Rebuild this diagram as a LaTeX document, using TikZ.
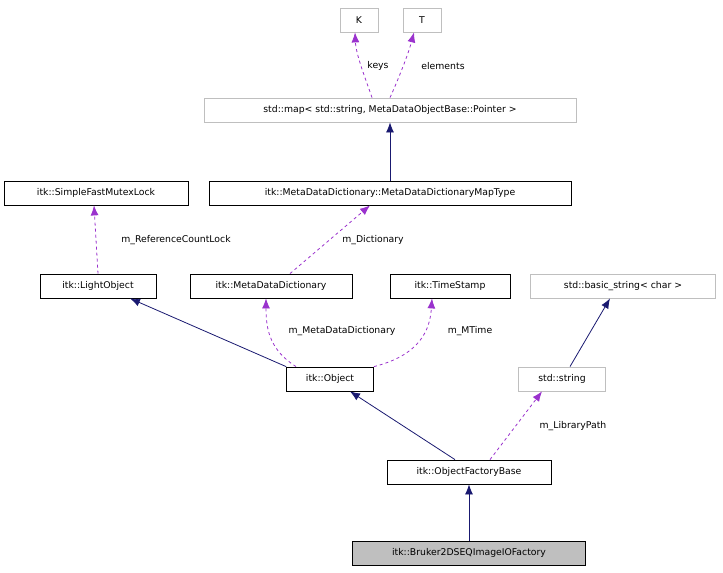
\documentclass[tikz,border=0pt]{standalone}
\usepackage{fontspec}
\setmainfont{DejaVu Sans}
\usetikzlibrary{arrows.meta}
\definecolor{navy}{HTML}{191970}
\definecolor{purp}{HTML}{9A32CD}
\definecolor{gr}{HTML}{BFBFBF}
\begin{document}
\begin{tikzpicture}[x=1pt,y=-1pt,
 box/.style={draw=black,rectangle,minimum height=24pt,inner xsep=4pt,font=\fontsize{9.3}{11}\selectfont,fill=white,line width=0.8pt},
 gbox/.style={box,draw=gr},
 inh/.style={draw=navy,line width=0.8pt,-{Latex[length=10pt,width=8pt]}},
 use/.style={draw=purp,dashed,line width=0.8pt,-{Latex[length=10pt,width=8pt]}},
 lab/.style={font=\fontsize{9.3}{11}\selectfont,fill=white,inner sep=1pt}]
\useasboundingbox (0,0) rectangle (723,573);
\node[gbox,minimum width=38pt] (K) at (359,20) {K};
\node[gbox,minimum width=38pt] (T) at (422,20) {T};
\node[gbox,minimum width=372pt] (map) at (390,110) {std::map< std::string, MetaDataObjectBase::Pointer >};
\node[box,minimum width=362pt] (mt) at (390,193) {itk::MetaDataDictionary::MetaDataDictionaryMapType};
\node[box,minimum width=184pt] (sf) at (96,193) {itk::SimpleFastMutexLock};
\node[box,minimum width=116pt] (lo) at (98,286) {itk::LightObject};
\node[box,minimum width=162pt] (md) at (271,286) {itk::MetaDataDictionary};
\node[box,minimum width=120pt] (ts) at (450,286) {itk::TimeStamp};
\node[gbox,minimum width=185pt] (bs) at (623,286) {std::basic\_string< char >};
\node[box,minimum width=87pt] (ob) at (330,379) {itk::Object};
\node[gbox,minimum width=87pt] (ss) at (562,379) {std::string};
\node[box,minimum width=164pt] (of) at (469,472) {itk::ObjectFactoryBase};
\node[box,minimum width=233pt,fill=gr] (br) at (469,553) {itk::Bruker2DSEQImageIOFactory};

\draw[use] (map.north-|372,0) .. controls (366,80) and (356,55) .. (K.south-|355,0);
\draw[use] (map.north-|390,0) .. controls (398,80) and (408,55) .. (T.south-|414,0);
\node[lab] at (378,66) {keys};
\node[lab] at (443,66) {elements};
\draw[inh] (mt.north-|390,0) -- (map.south-|390,0);
\draw[use] (lo.north-|98,0) -- (sf.south-|94,0);
\node[lab] at (176,240) {m\_ReferenceCountLock};
\draw[use] (md.north-|290,0) -- (mt.south-|370,0);
\node[lab] at (373,240) {m\_Dictionary};
\draw[inh] (ob.north west) -- (lo.south-|130,0);
\draw[use] (ob.north-|296,0) .. controls (270,350) and (266,330) .. (md.south-|266,0);
\node[lab] at (342,331) {m\_MetaDataDictionary};
\draw[use] (ob.north east) .. controls (420,355) and (430,330) .. (ts.south-|432,0);
\node[lab] at (470,331) {m\_MTime};
\draw[inh] (ss.north-|570,0) -- (bs.south-|610,0);
\draw[inh] (of.north-|455,0) -- (ob.south-|350,0);
\draw[use] (of.north-|490,0) -- (ss.south-|542,0);
\node[lab] at (573,426) {m\_LibraryPath};
\draw[inh] (br) -- (of);
\end{tikzpicture}
\end{document}
